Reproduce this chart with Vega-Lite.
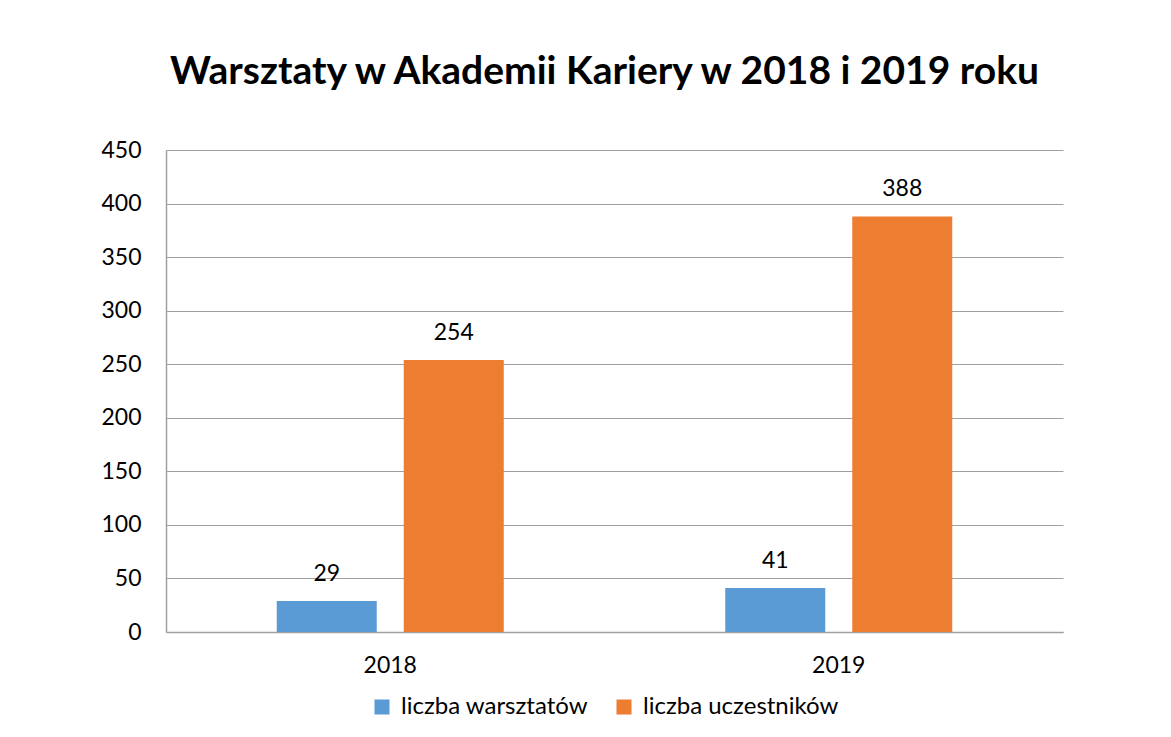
{
  "$schema": "https://vega.github.io/schema/vega-lite/v6.json",
  "autosize": {"type": "none"},
  "width": 897,
  "height": 482,
  "padding": {"left": 166, "top": 150, "right": 108, "bottom": 105},
  "background": "white",
  "title": {
    "text": "Warsztaty w Akademii Kariery w 2018 i 2019 roku",
    "font": "Lato",
    "fontSize": 39,
    "fontWeight": "bold",
    "color": "#000000",
    "anchor": "middle",
    "frame": "group",
    "baseline": "alphabetic",
    "dx": -10,
    "offset": 16
  },
  "data": {
    "values": [
      {"rok": "2018", "seria": "liczba warsztatów", "wartosc": 29},
      {"rok": "2018", "seria": "liczba uczestników", "wartosc": 254},
      {"rok": "2019", "seria": "liczba warsztatów", "wartosc": 41},
      {"rok": "2019", "seria": "liczba uczestników", "wartosc": 388}
    ]
  },
  "config": {
    "view": {"stroke": null},
    "font": "Lato"
  },
  "encoding": {
    "x": {
      "field": "rok",
      "type": "nominal",
      "scale": {"paddingInner": 0, "paddingOuter": 0},
      "axis": {
        "title": null,
        "labelAngle": 0,
        "labelFont": "Lato",
        "labelFontSize": 23,
        "labelColor": "#000000",
        "labelPadding": 22,
        "ticks": false,
        "domainColor": "#a0a0a0",
        "domainWidth": 1.5
      }
    },
    "xOffset": {
      "field": "seria",
      "type": "nominal",
      "sort": ["liczba warsztatów", "liczba uczestników"],
      "scale": {"paddingInner": 0.2126, "paddingOuter": 0.872}
    },
    "y": {
      "field": "wartosc",
      "type": "quantitative",
      "scale": {"domain": [0, 450]},
      "axis": {
        "title": null,
        "values": [0, 50, 100, 150, 200, 250, 300, 350, 400, 450],
        "labelFont": "Lato",
        "labelFontSize": 23,
        "labelColor": "#000000",
        "labelPadding": 25,
        "ticks": false,
        "domain": true,
        "domainColor": "#a0a0a0",
        "domainWidth": 1.5,
        "gridColor": "#a0a0a0",
        "gridWidth": 1.2
      }
    }
  },
  "layer": [
    {
      "mark": {"type": "bar"},
      "encoding": {
        "color": {
          "field": "seria",
          "type": "nominal",
          "sort": ["liczba warsztatów", "liczba uczestników"],
          "scale": {
            "domain": ["liczba warsztatów", "liczba uczestników"],
            "range": ["#5B9BD5", "#ED7D31"]
          },
          "legend": {
            "title": null,
            "orient": "none",
            "legendX": 204,
            "legendY": 545,
            "direction": "horizontal",
            "symbolType": "square",
            "symbolSize": 225,
            "symbolStrokeWidth": 0,
            "labelFont": "Lato",
            "labelFontSize": 24,
            "labelColor": "#000000",
            "labelOffset": 7,
            "labelLimit": 0,
            "columnPadding": 24
          }
        }
      }
    },
    {
      "mark": {
        "type": "text",
        "baseline": "alphabetic",
        "dy": -20,
        "font": "Lato",
        "fontSize": 23,
        "color": "#000000"
      },
      "encoding": {
        "text": {"field": "wartosc", "type": "quantitative"}
      }
    }
  ]
}
